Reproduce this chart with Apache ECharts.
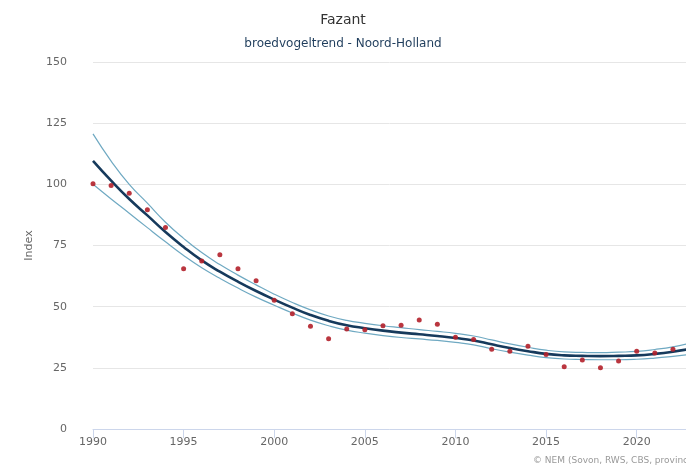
<!DOCTYPE html>
<html>
<head>
<meta charset="utf-8">
<script src="https://cdn.jsdelivr.net/npm/echarts@6/dist/echarts.min.js"></script>
<style>
html,body{margin:0;padding:0;background:#fff;}
#chart{width:686px;height:469px;}
</style>
</head>
<body>
<div id="chart"></div>
<script>
var years = [1990,1991,1992,1993,1994,1995,1996,1997,1998,1999,2000,2001,2002,2003,2004,2005,2006,2007,2008,2009,2010,2011,2012,2013,2014,2015,2016,2017,2018,2019,2020,2021,2022,2023];
var observed = [100.2,99.5,96.4,89.6,82.4,65.5,68.7,71.2,65.5,60.6,52.6,47.1,42.0,36.9,40.9,40.6,42.2,42.4,44.6,42.8,37.5,36.6,32.6,31.8,33.8,30.4,25.4,28.2,25.0,27.8,31.8,31.1,32.6,null];
var trend = [109.6,101.5,94.0,87.3,80.5,74.4,68.9,64.3,60.2,56.4,52.9,49.6,46.6,44.2,42.4,41.2,40.2,39.4,38.7,38.0,37.2,36.2,34.6,33.1,31.8,30.7,30.1,29.9,29.8,29.9,30.1,30.7,31.6,32.8];
var upper = [120.6,109.5,100.0,92.3,84.5,77.9,72.1,67.2,62.9,58.9,55.1,51.7,48.7,46.2,44.4,43.2,42.2,41.4,40.6,39.9,39.1,38.0,36.4,34.8,33.4,32.2,31.5,31.3,31.2,31.4,31.7,32.5,33.6,35.2];
var lower = [100.0,94.0,88.2,82.3,76.5,70.9,65.9,61.6,57.6,53.9,50.6,47.4,44.5,42.2,40.4,39.2,38.2,37.4,36.8,36.2,35.4,34.4,32.8,31.4,30.2,29.2,28.6,28.4,28.3,28.3,28.5,29.0,29.7,30.5];
var yTicks = [0,25,50,75,100,125,150];

function pairs(arr){ return years.map(function(y,i){ return arr[i]==null ? null : [y, arr[i]]; }).filter(function(p){return p;}); }

var chart = echarts.init(document.getElementById('chart'), null, {renderer:'canvas'});
var font = '"Lucida Grande","DejaVu Sans",Verdana,sans-serif';
chart.setOption({
  animation:false,
  backgroundColor:'#ffffff',
  title:[{
    text:'Fazant', left:'center', top:8,
    textStyle:{fontFamily:font, fontSize:14, fontWeight:'normal', color:'#333333'}
  },{
    text:'broedvogeltrend - Noord-Holland', left:'center', top:33,
    textStyle:{fontFamily:font, fontSize:12, fontWeight:'normal', color:'#1f3d5c'}
  }],
  grid:{left:93, top:62, right:0, height:367, containLabel:false},
  xAxis:{
    type:'value', min:1990, max:2022.72, interval:5,
    axisLine:{show:true, lineStyle:{color:'#ccd6eb', width:1}},
    axisTick:{show:true, length:9, lineStyle:{color:'#ccd6eb'}},
    splitLine:{show:false},
    axisLabel:{color:'#666666', fontFamily:font, fontSize:11, margin:8, showMaxLabel:false,
      formatter:function(v){return (v % 5 === 0) ? String(v) : '';}}
  },
  yAxis:{
    type:'value', min:yTicks[0], max:yTicks[yTicks.length-1], interval:25,
    name:'Index', nameLocation:'middle', nameGap:58,
    nameTextStyle:{color:'#666666', fontFamily:font, fontSize:11},
    axisLine:{show:false}, axisTick:{show:false},
    splitLine:{lineStyle:{color:'#e6e6e6', width:1}},
    axisLabel:{color:'#666666', fontFamily:font, fontSize:11, margin:26}
  },
  series:[
    {type:'line', data:pairs(upper), smooth:true, symbol:'none', clip:true, lineStyle:{color:'#6fa9c2', width:1.2}, z:2},
    {type:'line', data:pairs(lower), smooth:true, symbol:'none', clip:true, lineStyle:{color:'#6fa9c2', width:1.2}, z:2},
    {type:'line', data:pairs(trend), smooth:true, symbol:'none', clip:true, lineStyle:{color:'#163a5c', width:2.6}, z:3},
    {type:'scatter', data:pairs(observed), symbol:'circle', symbolSize:5, itemStyle:{color:'#b3202a', opacity:0.9}, z:4}
  ],
  graphic:[{
    type:'text', left:533, top:456,
    style:{text:'\u00a9 NEM (Sovon, RWS, CBS, provincies)', fill:'#999999', font:'9px '+font}
  }]
});
</script>
</body>
</html>
